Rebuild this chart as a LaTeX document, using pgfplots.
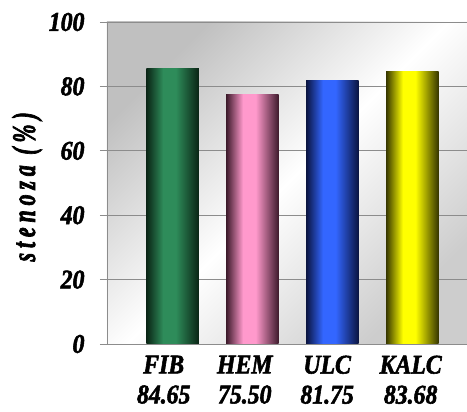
\documentclass[border=0pt]{standalone}
\usepackage{fontspec}
\setmainfont{Liberation Serif}
\newfontfamily\chartfont[FakeStretch=0.88,FakeBold=2]{Liberation Serif}
\newfontfamily\ylabfont[FakeStretch=0.66,FakeBold=2,LetterSpace=15]{Liberation Serif}
\usepackage{pgfplots}
\pgfplotsset{compat=1.18}

\definecolor{gmain}{HTML}{2E8C5A}\definecolor{gdark}{HTML}{0A2415}
\definecolor{pmain}{HTML}{FF99CC}\definecolor{pdark}{HTML}{3D1A2B}
\definecolor{bmain}{HTML}{3366FF}\definecolor{bdark}{HTML}{0A1440}
\definecolor{ymain}{HTML}{FFFF00}\definecolor{ydark}{HTML}{363600}
\definecolor{bgdark}{HTML}{C0C0C0}\definecolor{bglight}{HTML}{FFFFFF}\definecolor{bgmid}{HTML}{CDCDCD}
\definecolor{gridc}{HTML}{8C8C8C}

\newcommand\cyl[3]{\pgfdeclarehorizontalshading{#1}{100bp}{color(0bp)=(#3); color(25bp)=(#3); color(41bp)=(#2); color(53bp)=(#2); color(75bp)=(#3); color(100bp)=(#3)}}
\cyl{cylgreen}{gmain}{gdark}
\cyl{cylpink}{pmain}{pdark}
\cyl{cylblue}{bmain}{bdark}
\cyl{cylyellow}{ymain}{ydark}

\newcommand\labfont{\chartfont\bfseries\itshape\fontsize{27}{30}\selectfont}

\begin{document}
\begin{tikzpicture}
\useasboundingbox (-107pt,-68pt) rectangle (360pt,344pt);
\begin{axis}[
  at={(0pt,0pt)}, anchor=south west,
  scale only axis, width=360pt, height=322pt,
  xmin=-0.82, xmax=3.685, ymin=0, ymax=100,
  axis x line=bottom, axis y line=left,
  axis line style={-, draw=gridc, line width=0.9pt},
  ytick={0,20,40,60,80,100},
  yticklabels={0,20,40,60,80,100},
  ytick align=outside, major tick length=7pt,
  ytick style={draw=gridc, line width=0.9pt},
  ymajorgrids, grid style={draw=gridc, line width=0.9pt},
  xtick={-0.11,0.904,1.935,2.98},
  xtick style={draw=none},
  xticklabels={{FIB\\84.65},{HEM\\75.50},{ULC\\81.75},{KALC\\83.68}},
  xticklabel style={align=center, font=\labfont, yshift=-7pt, inner sep=1pt},
  yticklabel style={font=\labfont, xshift=-12pt},
  ylabel={\ylabfont\bfseries\itshape\fontsize{33}{36}\selectfont stenoza (\%)},
  ylabel style={at={(axis description cs:-0.222,0.488)}, anchor=center},
  axis background/.style={shading=axis, top color=bgdark, bottom color=bgmid, middle color=bglight, shading angle=45},
  clip=false,
]
\addplot[ybar, bar width=52.5pt, bar shift=0pt, draw=none, shading=cylgreen] coordinates {(0,85.7)};
\addplot[ybar, bar width=52.5pt, bar shift=0pt, draw=none, shading=cylpink] coordinates {(1,77.5)};
\addplot[ybar, bar width=52.5pt, bar shift=0pt, draw=none, shading=cylblue] coordinates {(2,81.9)};
\addplot[ybar, bar width=52.5pt, bar shift=0pt, draw=none, shading=cylyellow] coordinates {(3,84.6)};
\end{axis}
\end{tikzpicture}
\end{document}
